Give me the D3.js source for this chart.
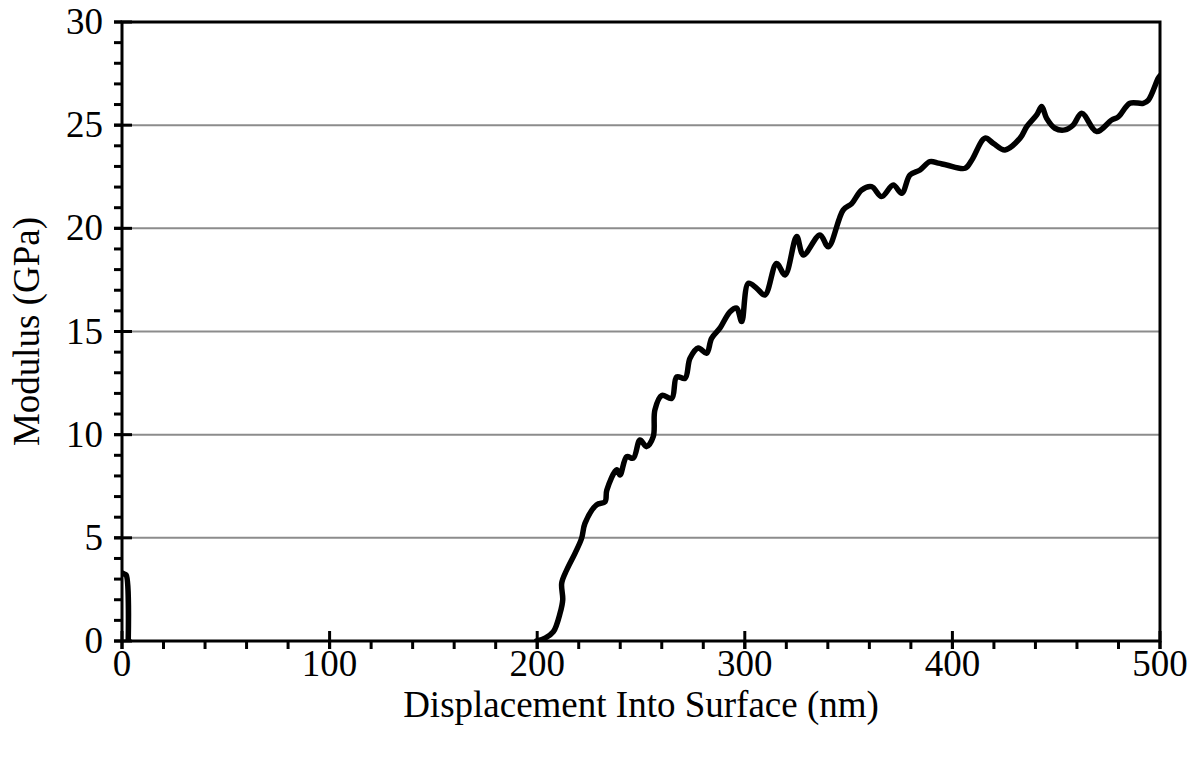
<!DOCTYPE html>
<html>
<head>
<meta charset="utf-8">
<script src="https://cdn.jsdelivr.net/npm/d3@7"></script>
<style>
  body { margin: 0; background: #fff; }
  svg { display: block; font-family: "Liberation Serif", "Times New Roman", serif; }
</style>
</head>
<body>
<div id="chart"></div>
<script>
// displacement (nm) and modulus (GPa); null = gap
const displacement = [0, 1, 2, 3, null,
  199.7, 204, 207.8, 211, 212.3, 211.8, 214.2, 218.2, 221.4, 223, 228.6, 232.7, 233.5, 238.3, 239.9,
  243.1, 246.3, 249.5, 252.7, 255.9, 256.7, 260, 264.8, 267.2, 271.2, 273.6, 277.6, 281.6, 284, 288,
  292.9, 296.1, 298.5, 301.7, 305.7, 309.7, 315.3, 319.4, 325, 328.2, 336.2, 340.2, 347.4, 351.5,
  356.3, 361.1, 365.9, 371.5, 375.6, 379.6, 384.4, 389.2, 393.2, 397.2, 406.1, 409.3, 415.7, 419.7,
  425.3, 432.6, 435.8, 440.6, 443, 445.4, 449.4, 454.2, 458.2, 462.3, 469.5, 476.7, 479.9, 485.5,
  491.9, 494.3, 499.1, 500];
const modulus = [3.3, 3.25, 3.2, 0, null,
  0, 0.15, 0.45, 1.34, 2.0, 2.8, 3.44, 4.25, 4.98, 5.7, 6.6, 6.75, 7.3, 8.3, 8.05,
  8.93, 8.86, 9.74, 9.42, 9.9, 11.2, 11.9, 11.76, 12.8, 12.73, 13.7, 14.2, 13.95, 14.67, 15.16,
  15.96, 16.13, 15.48, 17.34, 17.1, 16.77, 18.3, 17.74, 19.6, 18.71, 19.68, 19.11, 20.89, 21.2,
  21.86, 22.02, 21.54, 22.1, 21.7, 22.59, 22.83, 23.23, 23.16, 23.07, 22.91, 23.3, 24.37, 24.12,
  23.8, 24.37, 24.93, 25.5, 25.9, 25.33, 24.85, 24.77, 25.01, 25.58, 24.69, 25.25, 25.4, 26.06,
  26.06, 26.2, 27.27, 27.4];

const xTicks = [0, 100, 200, 300, 400, 500];
const yTicks = [0, 5, 10, 15, 20, 25, 30];
const xMinorTicks = d3.range(0, 501, 20);
const yMinorTicks = d3.range(0, 31, 1);
const xTitle = "Displacement Into Surface (nm)";
const yTitle = "Modulus (GPa)";

const W = 1196, H = 757;
const m = { left: 122, right: 36, top: 22, bottom: 116 };
const FS = 37;

const svg = d3.select("#chart").append("svg").attr("width", W).attr("height", H);

const x = d3.scaleLinear().domain([0, 500]).range([m.left, W - m.right]);
const y = d3.scaleLinear().domain([0, 30]).range([H - m.bottom, m.top]);

// gridlines
svg.append("g").selectAll("line")
  .data(yTicks.filter(d => d > 0 && d < 30))
  .join("line")
  .attr("x1", x(0)).attr("x2", x(500))
  .attr("y1", d => y(d)).attr("y2", d => y(d))
  .attr("stroke", "#8c8c8c").attr("stroke-width", 2);

// data line (smoothed like the original)
const pts = displacement.map((d, i) => ({ x: d, y: modulus[i] }));
const line = d3.line()
  .defined(d => d.x !== null && d.y !== null)
  .x(d => x(d.x)).y(d => y(d.y))
  .curve(d3.curveCatmullRom.alpha(0.5));

svg.append("clipPath").attr("id", "clip").append("rect")
  .attr("x", x(0)).attr("y", y(30)).attr("width", x(500) - x(0)).attr("height", y(0) - y(30));

svg.append("path")
  .datum(pts)
  .attr("clip-path", "url(#clip)")
  .attr("d", line)
  .attr("fill", "none")
  .attr("stroke", "#000")
  .attr("stroke-width", 5.5)
  .attr("stroke-linejoin", "round")
  .attr("stroke-linecap", "round");

// frame (top and right borders)
svg.append("rect")
  .attr("x", x(0)).attr("y", y(30))
  .attr("width", x(500) - x(0)).attr("height", y(0) - y(30))
  .attr("fill", "none").attr("stroke", "#000").attr("stroke-width", 3);

// x axis: minor ticks outside, major ticks cross
const xAxis = svg.append("g");
xAxis.selectAll("line.minor").data(xMinorTicks).join("line")
  .attr("class", "minor")
  .attr("x1", d => x(d)).attr("x2", d => x(d))
  .attr("y1", y(0)).attr("y2", y(0) + 8)
  .attr("stroke", "#000").attr("stroke-width", 3);
xAxis.selectAll("line.major").data(xTicks).join("line")
  .attr("class", "major")
  .attr("x1", d => x(d)).attr("x2", d => x(d))
  .attr("y1", y(0) - 10).attr("y2", y(0) + 8)
  .attr("stroke", "#000").attr("stroke-width", 3);
xAxis.selectAll("text").data(xTicks).join("text")
  .attr("x", d => x(d)).attr("y", y(0) + 35)
  .attr("text-anchor", "middle")
  .attr("font-size", FS)
  .text(d => d);

// y axis
const yAxis = svg.append("g");
yAxis.selectAll("line.minor").data(yMinorTicks).join("line")
  .attr("class", "minor")
  .attr("x1", x(0) - 8).attr("x2", x(0))
  .attr("y1", d => y(d)).attr("y2", d => y(d))
  .attr("stroke", "#000").attr("stroke-width", 3);
yAxis.selectAll("line.major").data(yTicks).join("line")
  .attr("class", "major")
  .attr("x1", x(0) - 8).attr("x2", x(0) + 10)
  .attr("y1", d => y(d)).attr("y2", d => y(d))
  .attr("stroke", "#000").attr("stroke-width", 3);
yAxis.selectAll("text").data(yTicks).join("text")
  .attr("x", x(0) - 19).attr("y", d => y(d) + 12)
  .attr("text-anchor", "end")
  .attr("font-size", FS)
  .text(d => d);

// titles
svg.append("text")
  .attr("x", (x(0) + x(500)) / 2).attr("y", 717)
  .attr("text-anchor", "middle").attr("font-size", FS)
  .text(xTitle);
svg.append("text")
  .attr("transform", `translate(39,${(y(0) + y(30)) / 2}) rotate(-90)`)
  .attr("text-anchor", "middle").attr("font-size", FS)
  .text(yTitle);
</script>
</body>
</html>
